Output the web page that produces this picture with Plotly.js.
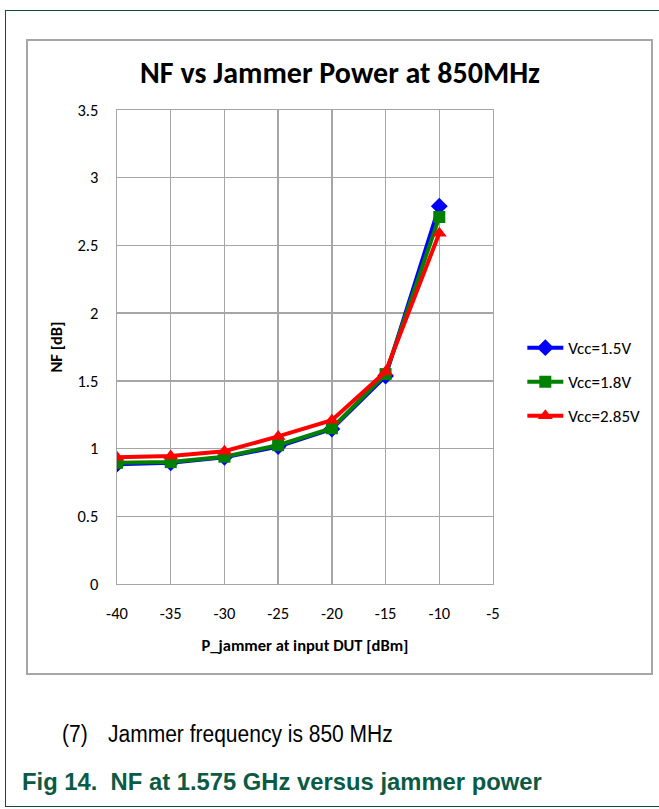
<!DOCTYPE html>
<html>
<head>
<meta charset="utf-8">
<script src="https://cdn.plot.ly/plotly-3.0.1.min.js"></script>
<style>
  html, body { margin: 0; padding: 0; background: #ffffff; width: 659px; height: 809px; overflow: hidden; }
  #outer { position: absolute; left: 5px; top: 10px; width: 700px; height: 797px; border-top: 1.5px solid #0d4f3c; border-left: 1.5px solid #0d4f3c; border-bottom: 1.5px solid #0d4f3c; box-sizing: border-box; }
  #box { position: absolute; left: 26px; top: 39px; width: 627px; height: 636px; border: 2px solid #a6a6a6; box-sizing: border-box; }
  #plot { position: absolute; left: 0; top: 0; width: 659px; height: 809px; }
  .note { position: absolute; top: 722.5px; font-family: "Liberation Sans", Arial, sans-serif; font-size: 23px; line-height: 23px; color: #000; white-space: pre; transform: scaleX(0.913); transform-origin: left top; }
  #cap { position: absolute; left: 22px; top: 770px; font-family: "Liberation Sans", Arial, sans-serif; font-weight: bold; font-size: 23.8px; line-height: 24px; color: #0b5a45; white-space: pre; }
</style>
</head>
<body>
<div id="outer"></div>
<div id="box"></div>
<div id="plot"></div>
<div class="note" style="left:62px">(7)</div>
<div class="note" style="left:108px">Jammer frequency is 850 MHz</div>
<div id="cap">Fig 14.  NF at 1.575 GHz versus jammer power</div>
<script>
const jammerPower = [-40, -35, -30, -25, -20, -15, -10];
const nfVcc15 = [0.885, 0.895, 0.935, 1.015, 1.145, 1.535, 2.79];
const nfVcc18 = [0.895, 0.90, 0.94, 1.025, 1.15, 1.55, 2.71];
const nfVcc285 = [0.935, 0.945, 0.98, 1.09, 1.21, 1.567, 2.59];
const seriesNames = ["Vcc=1.5V", "Vcc=1.8V", "Vcc=2.85V"];
const xTicks = [-40, -35, -30, -25, -20, -15, -10, -5];
const yTicks = [0, 0.5, 1, 1.5, 2, 2.5, 3, 3.5];

const chartFont = "Carlito, Calibri, Lato, sans-serif";

const traces = [
  { x: jammerPower, y: nfVcc15, name: seriesNames[0], legendgroup: "a", mode: "lines+markers", type: "scatter",
    line: { color: "#0000ff", width: 4 }, marker: { symbol: "diamond", size: 13, color: "#0000ff" } },
  { x: jammerPower, y: nfVcc18, name: seriesNames[1], legendgroup: "b", mode: "lines+markers", type: "scatter",
    line: { color: "#008000", width: 4 }, marker: { symbol: "square", size: 12, color: "#008000" } },
  { x: jammerPower, y: nfVcc285, name: seriesNames[2], legendgroup: "c", mode: "lines+markers", type: "scatter",
    line: { color: "#ff0000", width: 4 }, marker: { symbol: "triangle-up", size: 13, color: "#ff0000" } }
];

const layout = {
  width: 659, height: 809,
  margin: { l: 117, r: 166, t: 109.5, b: 225 },
  paper_bgcolor: "rgba(0,0,0,0)",
  plot_bgcolor: "rgba(0,0,0,0)",
  font: { family: chartFont, color: "#000000", size: 16 },
  title: { text: "<b>NF vs Jammer Power at 850MHz</b>", font: { family: chartFont, size: 30, color: "#000" },
    xref: "container", yref: "container", x: 0.516, xanchor: "center", y: 0.911, yanchor: "middle" },
  xaxis: {
    range: [-40, -5], tickvals: xTicks, ticktext: xTicks.map(String),
    showgrid: true, gridcolor: "#a6a6a6", gridwidth: 1.3,
    showline: true, linecolor: "#a6a6a6", linewidth: 1.3, mirror: true,
    zeroline: false, ticks: "", ticklabelstandoff: 14,
    tickfont: { family: chartFont, size: 16.5, color: "#000" },
    title: { text: "<b>P_jammer at input DUT [dBm]</b>", font: { family: chartFont, size: 16.5, color: "#000" }, standoff: 17 }
  },
  yaxis: {
    range: [0, 3.5], tickvals: yTicks, ticktext: yTicks.map(String),
    showgrid: true, gridcolor: "#a6a6a6", gridwidth: 1.3,
    showline: true, linecolor: "#a6a6a6", linewidth: 1.3, mirror: true,
    zeroline: false, ticks: "", ticklabelstandoff: 14,
    tickfont: { family: chartFont, size: 16.5, color: "#000" },
    title: { text: "<b>NF [dB]</b>", font: { family: chartFont, size: 16.5, color: "#000" }, standoff: 10 }
  },
  showlegend: true,
  legend: { x: 1.078, xanchor: "left", y: 0.426, yanchor: "middle", font: { family: chartFont, size: 17, color: "#000" },
    bgcolor: "rgba(0,0,0,0)", tracegroupgap: 9, itemwidth: 36, traceorder: "grouped" }
};

Plotly.newPlot("plot", traces, layout, { displayModeBar: false, staticPlot: true });
</script>
</body>
</html>
